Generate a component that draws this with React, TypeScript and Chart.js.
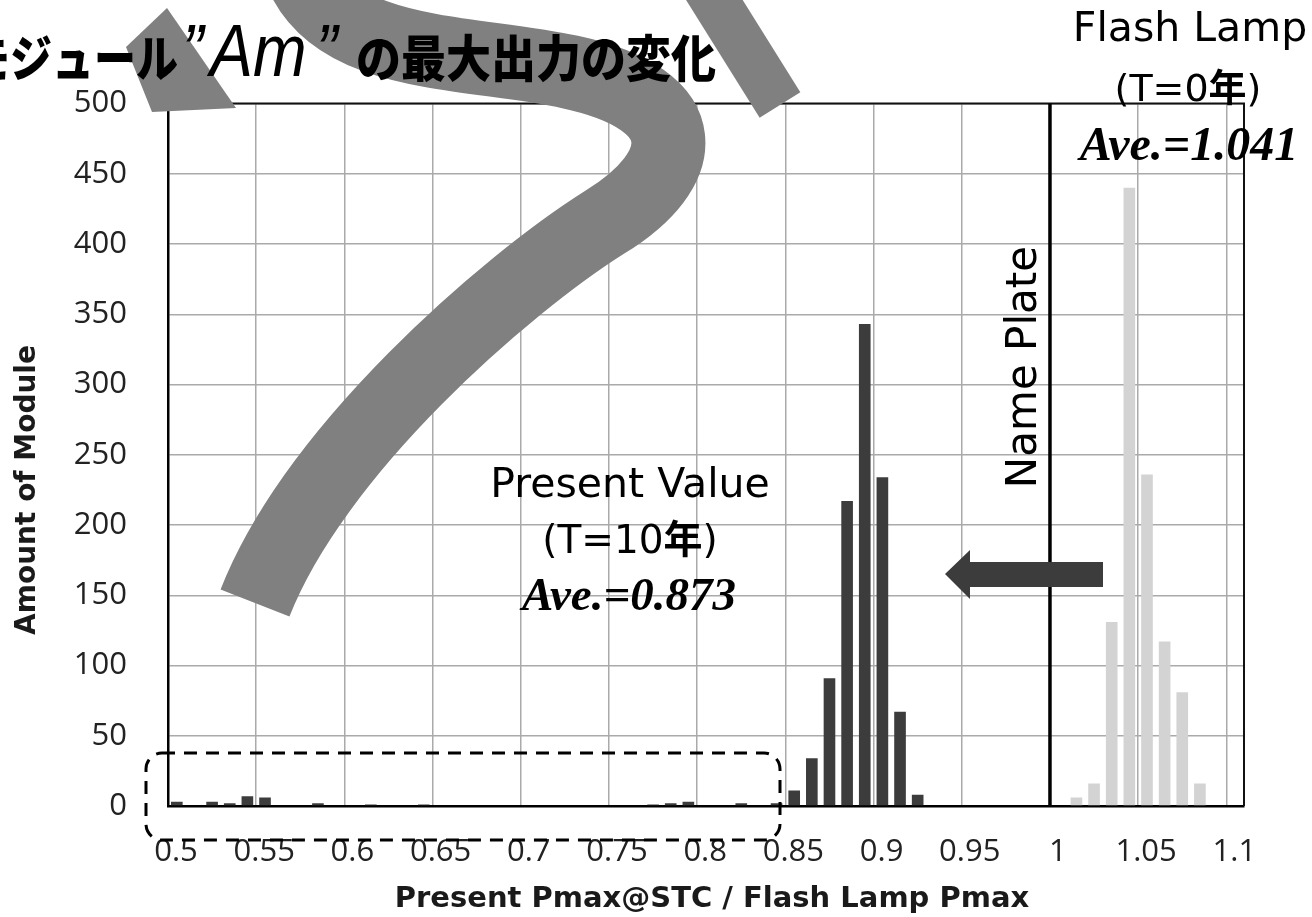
import React, { useEffect, useRef } from 'react';
import { Chart, registerables } from 'chart.js';

Chart.register(...registerables);

// ---- data ----
const presentBins = [0.505, 0.525, 0.535, 0.545, 0.555, 0.585, 0.615, 0.645, 0.775, 0.785, 0.795, 0.825, 0.845, 0.855, 0.865, 0.875, 0.885, 0.895, 0.905, 0.915, 0.925];
const presentCounts = [3, 3, 2, 7, 6, 2, 1, 1, 1, 2, 3, 2, 2, 11, 34, 91, 217, 343, 234, 67, 8];
const flashBins = [1.015, 1.025, 1.035, 1.045, 1.055, 1.065, 1.075, 1.085];
const flashCounts = [6, 16, 131, 440, 236, 117, 81, 16];
const xTickValues = [0.5, 0.55, 0.6, 0.65, 0.7, 0.75, 0.8, 0.85, 0.9, 0.95, 1, 1.05, 1.1];
const yTickValues = [0, 50, 100, 150, 200, 250, 300, 350, 400, 450, 500];
const namePlateValue = 1.0;

const titleLeft = 'モジュール';
const titleAm = 'Am';
const titleRight = 'の最大出力の変化';
const yTitle = 'Amount of Module';
const xTitle = 'Present Pmax@STC / Flash Lamp Pmax';

const DARK = '#3c3c3c';
const LIGHT = '#d3d3d3';
const GRID = '#aaaaaa';
const SANS = '"DejaVu Sans", sans-serif';
const CJK = '"Noto Sans CJK JP", sans-serif';
const SERIF = '"Liberation Serif", serif';

type Run = { text: string; font: string };

function drawRuns(ctx: CanvasRenderingContext2D, runs: Run[], cx: number, by: number) {
  let total = 0;
  const widths = runs.map((r) => {
    ctx.font = r.font;
    const w = ctx.measureText(r.text).width;
    total += w;
    return w;
  });
  let x = cx - total / 2;
  ctx.textAlign = 'left';
  ctx.textBaseline = 'alphabetic';
  runs.forEach((r, i) => {
    ctx.font = r.font;
    ctx.fillText(r.text, x, by);
    x += widths[i];
  });
}

const overlayPlugin = {
  id: 'overlay',
  afterDraw(chart: any) {
    const { ctx, chartArea: ca, scales } = chart;
    const xs = scales.x;
    ctx.save();

    // frame top/right
    ctx.strokeStyle = '#111';
    ctx.lineWidth = 2;
    ctx.beginPath();
    ctx.moveTo(ca.left, ca.top);
    ctx.lineTo(ca.right, ca.top);
    ctx.lineTo(ca.right, ca.bottom);
    ctx.stroke();

    // name plate line
    const xp = xs.getPixelForValue(namePlateValue);
    ctx.strokeStyle = '#000';
    ctx.lineWidth = 3.5;
    ctx.beginPath();
    ctx.moveTo(xp, ca.top);
    ctx.lineTo(xp, ca.bottom);
    ctx.stroke();

    // big grey stroke overlay
    ctx.strokeStyle = '#808080';
    ctx.fillStyle = '#808080';
    ctx.lineCap = 'butt';
    ctx.lineJoin = 'round';
    ctx.lineWidth = 74;
    ctx.beginPath();
    ctx.moveTo(300, -30);
    ctx.bezierCurveTo(335, 60, 470, 50, 570, 72);
    ctx.bezierCurveTo(700, 100, 690, 170, 605, 222);
    ctx.bezierCurveTo(505, 285, 315, 450, 255, 603);
    ctx.stroke();
    // right diagonal band
    ctx.lineWidth = 48;
    ctx.beginPath();
    ctx.moveTo(705, -15);
    ctx.lineTo(780, 105);
    ctx.stroke();
    // left wedge
    ctx.beginPath();
    ctx.moveTo(167, 8);
    ctx.lineTo(236, 108);
    ctx.lineTo(152, 112);
    ctx.lineTo(126, 47);
    ctx.closePath();
    ctx.fill();

    // arrow
    ctx.fillStyle = DARK;
    ctx.beginPath();
    ctx.moveTo(945, 574);
    ctx.lineTo(970, 550);
    ctx.lineTo(970, 562);
    ctx.lineTo(1103, 562);
    ctx.lineTo(1103, 587);
    ctx.lineTo(970, 587);
    ctx.lineTo(970, 599);
    ctx.closePath();
    ctx.fill();

    // dashed rounded box
    ctx.strokeStyle = '#000';
    ctx.lineWidth = 3;
    ctx.setLineDash([13, 9]);
    ctx.beginPath();
    (ctx as any).roundRect(146, 753, 634, 87, 16);
    ctx.stroke();
    ctx.setLineDash([]);

    // title
    ctx.fillStyle = '#000';
    ctx.textBaseline = 'alphabetic';
    ctx.save();
    ctx.translate(178, 77);
    ctx.scale(0.84, 1);
    ctx.font = `900 50px ${CJK}`;
    ctx.textAlign = 'right';
    ctx.fillText(titleLeft, 0, 0);
    ctx.restore();

    ctx.save();
    ctx.translate(0, 76);
    ctx.scale(0.87, 1);
    ctx.font = `italic 74px "Liberation Sans", sans-serif`;
    ctx.textAlign = 'left';
    ctx.fillText('\u201d', 182 / 0.87, 0);
    ctx.fillText(titleAm, 210 / 0.87, 0);
    ctx.fillText('\u201d', 316 / 0.87, 0);
    ctx.restore();

    ctx.save();
    ctx.translate(356, 77);
    ctx.scale(0.9, 1);
    ctx.font = `900 50px ${CJK}`;
    ctx.textAlign = 'left';
    ctx.fillText(titleRight, 0, 0);
    ctx.restore();

    // annotations
    ctx.fillStyle = '#000';
    drawRuns(ctx, [{ text: 'Present Value', font: `41px ${SANS}` }], 630, 497);
    drawRuns(ctx, [
      { text: '(T=10', font: `39px ${SANS}` },
      { text: '年', font: `bold 39px ${CJK}` },
      { text: ')', font: `39px ${SANS}` },
    ], 630, 553);
    drawRuns(ctx, [{ text: 'Ave.=0.873', font: `italic bold 47px ${SERIF}` }], 629, 610);

    drawRuns(ctx, [{ text: 'Flash Lamp', font: `41px ${SANS}` }], 1190, 41);
    drawRuns(ctx, [
      { text: '(T=0', font: `38px ${SANS}` },
      { text: '年', font: `bold 38px ${CJK}` },
      { text: ')', font: `38px ${SANS}` },
    ], 1188, 101);
    drawRuns(ctx, [{ text: 'Ave.=1.041', font: `italic bold 48px ${SERIF}` }], 1189, 160);

    // Name Plate (rotated)
    ctx.save();
    ctx.translate(1036, 367);
    ctx.rotate(-Math.PI / 2);
    ctx.font = `42px ${SANS}`;
    ctx.textAlign = 'center';
    ctx.textBaseline = 'alphabetic';
    ctx.fillText('Name Plate', 0, 0);
    ctx.restore();

    // axis titles
    ctx.fillStyle = '#1a1a1a';
    ctx.save();
    ctx.translate(28, 490);
    ctx.rotate(-Math.PI / 2);
    ctx.font = `bold 28px ${SANS}`;
    ctx.textAlign = 'center';
    ctx.textBaseline = 'middle';
    ctx.fillText(yTitle, 0, 0);
    ctx.restore();

    ctx.font = `bold 29px ${SANS}`;
    ctx.textAlign = 'center';
    ctx.textBaseline = 'alphabetic';
    ctx.fillText(xTitle, 712, 907);

    ctx.restore();
  },
};

export default function App() {
  const ref = useRef<HTMLCanvasElement>(null);

  useEffect(() => {
    if (!ref.current) return;
    const chart = new Chart(ref.current, {
      type: 'bar',
      data: {
        datasets: [
          {
            label: 'Present',
            data: presentBins.map((x, i) => ({ x, y: presentCounts[i] })),
            backgroundColor: DARK,
            grouped: false,
            barPercentage: 0.66,
            categoryPercentage: 1,
          } as any,
          {
            label: 'Flash Lamp',
            data: flashBins.map((x, i) => ({ x, y: flashCounts[i] })),
            backgroundColor: LIGHT,
            grouped: false,
            barPercentage: 0.66,
            categoryPercentage: 1,
          } as any,
        ],
      },
      options: {
        responsive: false,
        animation: false,
        layout: { padding: { left: 0, right: 68, top: 103.5, bottom: 0 } },
        plugins: { legend: { display: false }, tooltip: { enabled: false }, title: { display: false } },
        scales: {
          x: {
            type: 'linear',
            min: 0.5,
            max: 1.11,
            offset: false,
            afterBuildTicks: (scale: any) => {
              scale.ticks = xTickValues.map((v) => ({ value: v }));
            },
            afterFit: (scale: any) => {
              scale.height = 917 - 806;
            },
            grid: { color: GRID, lineWidth: 1.5, drawTicks: false, offset: false },
            border: { display: true, color: '#000', width: 2.5 },
            ticks: {
              padding: 28,
              labelOffset: 8,
              maxRotation: 0,
              autoSkip: false,
              color: '#222',
              font: { family: '"Open Sans", sans-serif', size: 31 },
              callback: (v: any) => String(Number(Number(v).toFixed(2))),
            },
          },
          y: {
            type: 'linear',
            min: 0,
            max: 500,
            afterBuildTicks: (scale: any) => {
              scale.ticks = yTickValues.map((v) => ({ value: v }));
            },
            afterFit: (scale: any) => {
              scale.width = 168;
            },
            grid: { color: GRID, lineWidth: 1.5, drawTicks: false },
            border: { display: true, color: '#000', width: 2.5 },
            ticks: {
              padding: 41,
              color: '#222',
              font: { family: '"Open Sans", sans-serif', size: 31 },
              callback: (v: any) => String(v),
            },
          },
        },
      },
      plugins: [overlayPlugin],
    });
    return () => chart.destroy();
  }, []);

  return (
    <div style={{ width: 1312, height: 917, background: '#fff' }}>
      <style>{'body{margin:0;background:#fff}'}</style>
      <canvas ref={ref} width={1312} height={917} style={{ display: 'block' }} />
    </div>
  );
}
